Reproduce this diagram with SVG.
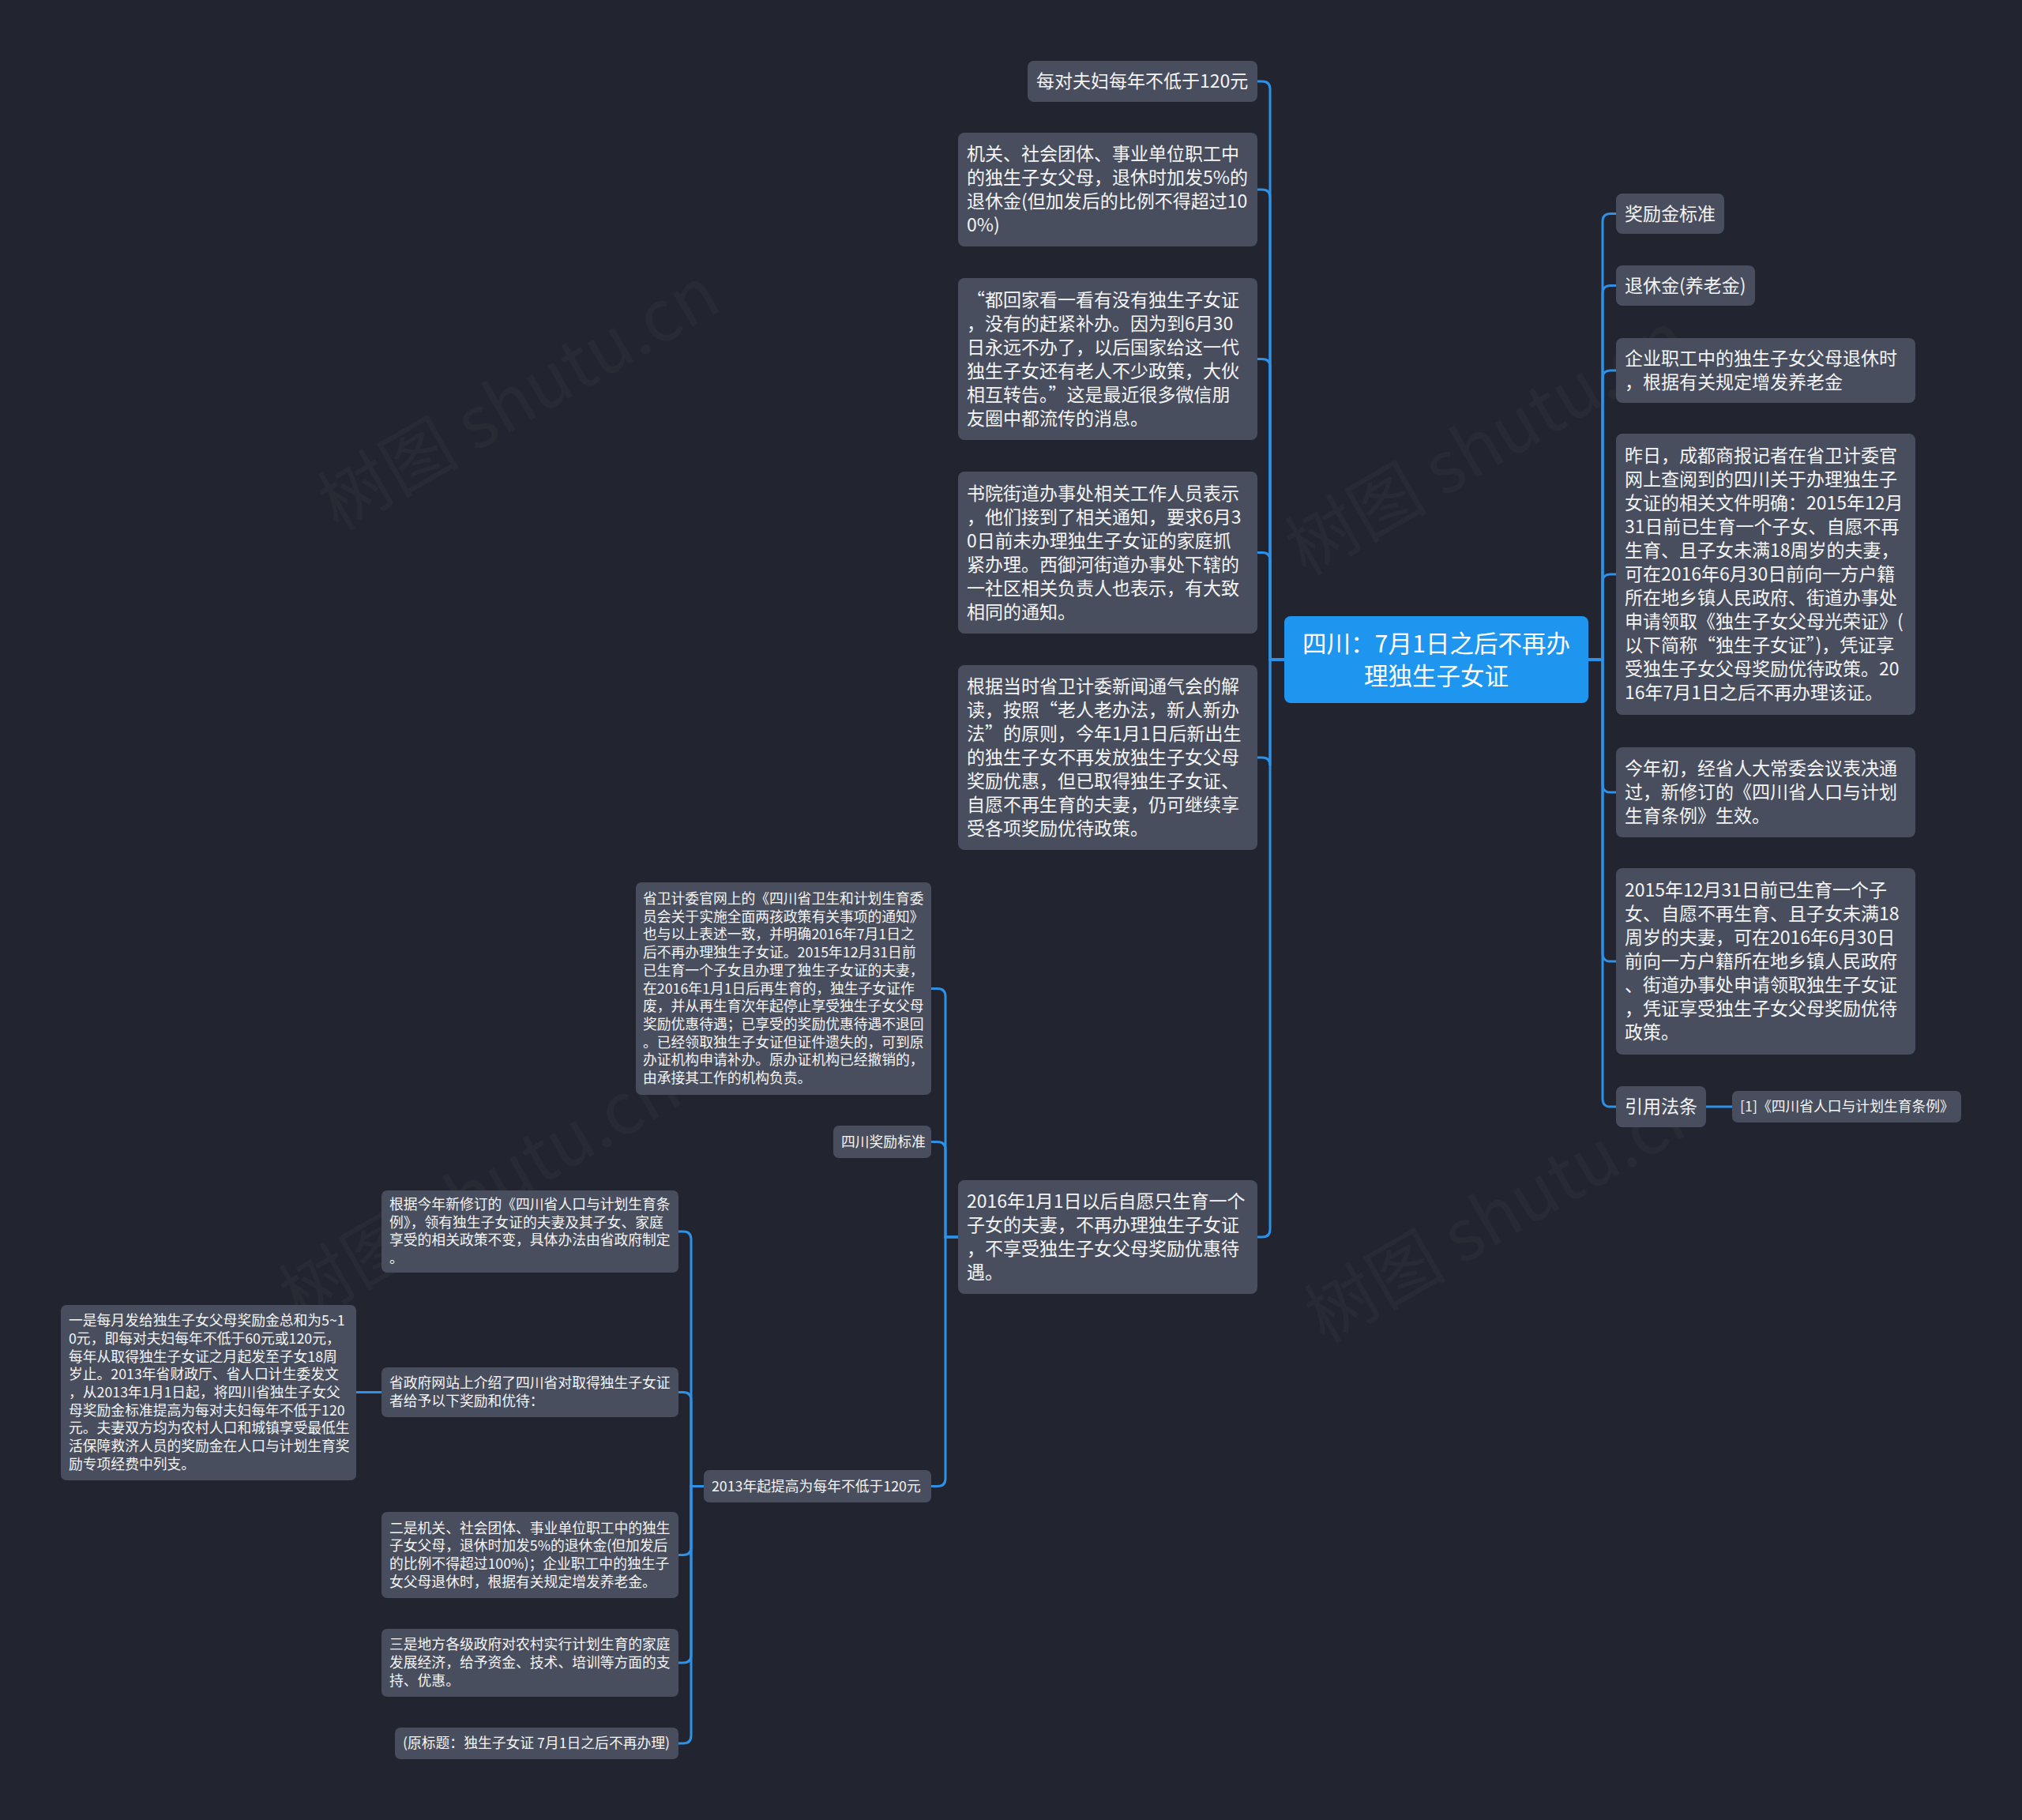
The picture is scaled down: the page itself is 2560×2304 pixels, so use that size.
<svg xmlns="http://www.w3.org/2000/svg" width="2560" height="2304" viewBox="0 0 2560 2304">
<style>
.bg{fill:#22252f}
.node rect{fill:#484e5e}
.root rect{fill:#1e96f0}
text{font-family:"Noto Sans CJK SC","Microsoft YaHei","Noto Sans",sans-serif;fill:#f4f4f4;dominant-baseline:central}
.node text,.root text{transform:translateY(-2px)}
.big text{font-size:23px}
.sm text{font-size:17.8px}
.root text{font-size:30.5px;fill:#ffffff;text-anchor:middle}
.wm{font-size:90px;fill:#ffffff;opacity:0.025}
#connectors path{fill:none;stroke:#2d91e8;stroke-width:3;stroke-linecap:round}
</style>
<rect class="bg" x="0" y="0" width="2560" height="2304"/>

<g id="watermarks">
<text class="wm" x="653" y="498" text-anchor="middle" transform="rotate(-30 653 498)">树图 shutu.cn</text>
<text class="wm" x="1878" y="555" text-anchor="middle" transform="rotate(-30 1878 555)">树图 shutu.cn</text>
<text class="wm" x="604" y="1502" text-anchor="middle" transform="rotate(-30 604 1502)">树图 shutu.cn</text>
<text class="wm" x="1902" y="1527" text-anchor="middle" transform="rotate(-30 1902 1527)">树图 shutu.cn</text>
</g>

<g id="connectors">
<path d="M1626 835 H1608 V113 Q1608 103 1598 103 H1592"/>
<path d="M1626 835 H1608 V250 Q1608 240 1598 240 H1592"/>
<path d="M1626 835 H1608 V464.5 Q1608 454.5 1598 454.5 H1592"/>
<path d="M1626 835 H1608 V709.5 Q1608 699.5 1598 699.5 H1592"/>
<path d="M1626 835 H1608 V969 Q1608 959 1598 959 H1592"/>
<path d="M1626 835 H1608 V1556 Q1608 1566 1598 1566 H1592"/>
<path d="M2011 835 H2029 V280.5 Q2029 270.5 2039 270.5 H2046"/>
<path d="M2011 835 H2029 V371.5 Q2029 361.5 2039 361.5 H2046"/>
<path d="M2011 835 H2029 V479 Q2029 469 2039 469 H2046"/>
<path d="M2011 835 H2029 V737 Q2029 727 2039 727 H2046"/>
<path d="M2011 835 H2029 V993 Q2029 1003 2039 1003 H2046"/>
<path d="M2011 835 H2029 V1207 Q2029 1217 2039 1217 H2046"/>
<path d="M2011 835 H2029 V1391 Q2029 1401 2039 1401 H2046"/>
<path d="M2160 1401 H2193"/>
<path d="M1213 1566 H1197 V1261.5 Q1197 1251.5 1187 1251.5 H1179"/>
<path d="M1213 1566 H1197 V1455.5 Q1197 1445.5 1187 1445.5 H1179"/>
<path d="M1213 1566 H1197 V1871.5 Q1197 1881.5 1187 1881.5 H1179"/>
<path d="M891 1881.5 H875 V1569 Q875 1559 865 1559 H859"/>
<path d="M891 1881.5 H875 V1772.5 Q875 1762.5 865 1762.5 H859"/>
<path d="M891 1881.5 H875 V1958.5 Q875 1968.5 865 1968.5 H859"/>
<path d="M891 1881.5 H875 V2095 Q875 2105 865 2105 H859"/>
<path d="M891 1881.5 H875 V2197 Q875 2207 865 2207 H859"/>
<path d="M483 1762.5 H451"/>
</g>

<g id="root" class="root">
<rect x="1626" y="780" width="385" height="110" rx="8"/>
<text x="1818.5" y="815">四川：7月1日之后不再办</text>
<text x="1818.5" y="856">理独生子女证</text>
</g>

<g id="n-l1" class="node big">
<rect x="1301" y="77" width="291" height="52" rx="8"/>
<text x="1312" y="103">每对夫妇每年不低于120元</text>
</g>
<g id="n-l2" class="node big">
<rect x="1213" y="168" width="379" height="144" rx="8"/>
<text x="1224" y="195">机关、社会团体、事业单位职工中</text>
<text x="1224" y="225">的独生子女父母，退休时加发5%的</text>
<text x="1224" y="255">退休金(但加发后的比例不得超过10</text>
<text x="1224" y="285">0%)</text>
</g>
<g id="n-l3" class="node big">
<rect x="1213" y="352" width="379" height="205" rx="8"/>
<text x="1224" y="379.5">“都回家看一看有没有独生子女证</text>
<text x="1224" y="409.5">，没有的赶紧补办。因为到6月30</text>
<text x="1224" y="439.5">日永远不办了，以后国家给这一代</text>
<text x="1224" y="469.5">独生子女还有老人不少政策，大伙</text>
<text x="1224" y="499.5">相互转告。”这是最近很多微信朋</text>
<text x="1224" y="529.5">友圈中都流传的消息。</text>
</g>
<g id="n-l4" class="node big">
<rect x="1213" y="597" width="379" height="205" rx="8"/>
<text x="1224" y="624.5">书院街道办事处相关工作人员表示</text>
<text x="1224" y="654.5">，他们接到了相关通知，要求6月3</text>
<text x="1224" y="684.5">0日前未办理独生子女证的家庭抓</text>
<text x="1224" y="714.5">紧办理。西御河街道办事处下辖的</text>
<text x="1224" y="744.5">一社区相关负责人也表示，有大致</text>
<text x="1224" y="774.5">相同的通知。</text>
</g>
<g id="n-l5" class="node big">
<rect x="1213" y="842" width="379" height="234" rx="8"/>
<text x="1224" y="869">根据当时省卫计委新闻通气会的解</text>
<text x="1224" y="899">读，按照“老人老办法，新人新办</text>
<text x="1224" y="929">法”的原则，今年1月1日后新出生</text>
<text x="1224" y="959">的独生子女不再发放独生子女父母</text>
<text x="1224" y="989">奖励优惠，但已取得独生子女证、</text>
<text x="1224" y="1019">自愿不再生育的夫妻，仍可继续享</text>
<text x="1224" y="1049">受各项奖励优待政策。</text>
</g>
<g id="n-l6" class="node big">
<rect x="1213" y="1494" width="379" height="144" rx="8"/>
<text x="1224" y="1521">2016年1月1日以后自愿只生育一个</text>
<text x="1224" y="1551">子女的夫妻，不再办理独生子女证</text>
<text x="1224" y="1581">，不享受独生子女父母奖励优惠待</text>
<text x="1224" y="1611">遇。</text>
</g>

<g id="n-r1" class="node big">
<rect x="2046" y="245" width="137" height="51" rx="8"/>
<text x="2057" y="270.5">奖励金标准</text>
</g>
<g id="n-r2" class="node big">
<rect x="2046" y="336" width="176" height="51" rx="8"/>
<text x="2057" y="361.5">退休金(养老金)</text>
</g>
<g id="n-r3" class="node big">
<rect x="2046" y="428" width="379" height="82" rx="8"/>
<text x="2057" y="454">企业职工中的独生子女父母退休时</text>
<text x="2057" y="484">，根据有关规定增发养老金</text>
</g>
<g id="n-r4" class="node big">
<rect x="2046" y="549" width="379" height="356" rx="8"/>
<text x="2057" y="577">昨日，成都商报记者在省卫计委官</text>
<text x="2057" y="607">网上查阅到的四川关于办理独生子</text>
<text x="2057" y="637">女证的相关文件明确：2015年12月</text>
<text x="2057" y="667">31日前已生育一个子女、自愿不再</text>
<text x="2057" y="697">生育、且子女未满18周岁的夫妻，</text>
<text x="2057" y="727">可在2016年6月30日前向一方户籍</text>
<text x="2057" y="757">所在地乡镇人民政府、街道办事处</text>
<text x="2057" y="787">申请领取《独生子女父母光荣证》(</text>
<text x="2057" y="817">以下简称“独生子女证”)，凭证享</text>
<text x="2057" y="847">受独生子女父母奖励优待政策。20</text>
<text x="2057" y="877">16年7月1日之后不再办理该证。</text>
</g>
<g id="n-r5" class="node big">
<rect x="2046" y="946" width="379" height="114" rx="8"/>
<text x="2057" y="973">今年初，经省人大常委会议表决通</text>
<text x="2057" y="1003">过，新修订的《四川省人口与计划</text>
<text x="2057" y="1033">生育条例》生效。</text>
</g>
<g id="n-r6" class="node big">
<rect x="2046" y="1099" width="379" height="236" rx="8"/>
<text x="2057" y="1127">2015年12月31日前已生育一个子</text>
<text x="2057" y="1157">女、自愿不再生育、且子女未满18</text>
<text x="2057" y="1187">周岁的夫妻，可在2016年6月30日</text>
<text x="2057" y="1217">前向一方户籍所在地乡镇人民政府</text>
<text x="2057" y="1247">、街道办事处申请领取独生子女证</text>
<text x="2057" y="1277">，凭证享受独生子女父母奖励优待</text>
<text x="2057" y="1307">政策。</text>
</g>
<g id="n-r7" class="node big">
<rect x="2046" y="1375" width="114" height="52" rx="8"/>
<text x="2057" y="1401">引用法条</text>
</g>
<g id="n-r7a" class="node sm">
<rect x="2193" y="1381" width="290" height="40" rx="7"/>
<text x="2203" y="1401">[1]《四川省人口与计划生育条例》</text>
</g>

<g id="n-a1" class="node sm">
<rect x="805" y="1117" width="374" height="269" rx="7"/>
<text x="814" y="1138">省卫计委官网上的《四川省卫生和计划生育委</text>
<text x="814" y="1160.7">员会关于实施全面两孩政策有关事项的通知》</text>
<text x="814" y="1183.4">也与以上表述一致，并明确2016年7月1日之</text>
<text x="814" y="1206.1">后不再办理独生子女证。2015年12月31日前</text>
<text x="814" y="1228.8">已生育一个子女且办理了独生子女证的夫妻，</text>
<text x="814" y="1251.5">在2016年1月1日后再生育的，独生子女证作</text>
<text x="814" y="1274.2">废，并从再生育次年起停止享受独生子女父母</text>
<text x="814" y="1296.9">奖励优惠待遇；已享受的奖励优惠待遇不退回</text>
<text x="814" y="1319.6">。已经领取独生子女证但证件遗失的，可到原</text>
<text x="814" y="1342.3">办证机构申请补办。原办证机构已经撤销的，</text>
<text x="814" y="1365">由承接其工作的机构负责。</text>
</g>
<g id="n-a2" class="node sm">
<rect x="1055" y="1425" width="124" height="41" rx="7"/>
<text x="1065" y="1445.5">四川奖励标准</text>
</g>
<g id="n-a3" class="node sm">
<rect x="891" y="1861" width="288" height="41" rx="7"/>
<text x="901" y="1881.5">2013年起提高为每年不低于120元</text>
</g>

<g id="n-b1" class="node sm">
<rect x="483" y="1507" width="376" height="104" rx="7"/>
<text x="493" y="1525">根据今年新修订的《四川省人口与计划生育条</text>
<text x="493" y="1547.7">例》，领有独生子女证的夫妻及其子女、家庭</text>
<text x="493" y="1570.4">享受的相关政策不变，具体办法由省政府制定</text>
<text x="493" y="1593.1">。</text>
</g>
<g id="n-b2" class="node sm">
<rect x="483" y="1731" width="376" height="63" rx="7"/>
<text x="493" y="1751">省政府网站上介绍了四川省对取得独生子女证</text>
<text x="493" y="1774">者给予以下奖励和优待：</text>
</g>
<g id="n-b3" class="node sm">
<rect x="483" y="1914" width="376" height="109" rx="7"/>
<text x="493" y="1934.5">二是机关、社会团体、事业单位职工中的独生</text>
<text x="493" y="1957.2">子女父母，退休时加发5%的退休金(但加发后</text>
<text x="493" y="1979.9">的比例不得超过100%)；企业职工中的独生子</text>
<text x="493" y="2002.6">女父母退休时，根据有关规定增发养老金。</text>
</g>
<g id="n-b4" class="node sm">
<rect x="483" y="2062" width="376" height="86" rx="7"/>
<text x="493" y="2082.3">三是地方各级政府对农村实行计划生育的家庭</text>
<text x="493" y="2105">发展经济，给予资金、技术、培训等方面的支</text>
<text x="493" y="2127.7">持、优惠。</text>
</g>
<g id="n-b5" class="node sm">
<rect x="500" y="2187" width="359" height="40" rx="7"/>
<text x="510" y="2207">(原标题：独生子女证 7月1日之后不再办理)</text>
</g>
<g id="n-c1" class="node sm">
<rect x="77" y="1652" width="374" height="222" rx="7"/>
<text x="87" y="1672.2">一是每月发给独生子女父母奖励金总和为5~1</text>
<text x="87" y="1694.9">0元，即每对夫妇每年不低于60元或120元，</text>
<text x="87" y="1717.6">每年从取得独生子女证之月起发至子女18周</text>
<text x="87" y="1740.3">岁止。2013年省财政厅、省人口计生委发文</text>
<text x="87" y="1763">，从2013年1月1日起，将四川省独生子女父</text>
<text x="87" y="1785.7">母奖励金标准提高为每对夫妇每年不低于120</text>
<text x="87" y="1808.4">元。夫妻双方均为农村人口和城镇享受最低生</text>
<text x="87" y="1831.1">活保障救济人员的奖励金在人口与计划生育奖</text>
<text x="87" y="1853.8">励专项经费中列支。</text>
</g>
</svg>
